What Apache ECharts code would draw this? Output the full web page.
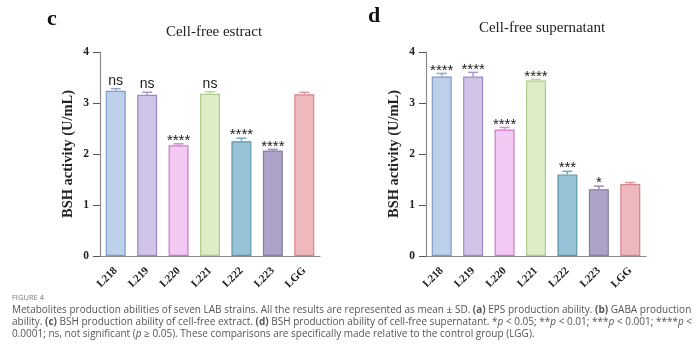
<!DOCTYPE html>
<html><head><meta charset="utf-8">
<script src="https://cdn.jsdelivr.net/npm/echarts@6/dist/echarts.min.js"></script>
<style>html,body{margin:0;padding:0;background:#fff}#c{width:700px;height:356px}</style>
</head><body><div id="c"></div>
<script>
const categories = ['L218','L219','L220','L221','L222','L223','LGG'];
const extractMean = [3.24, 3.16, 2.17, 3.18, 2.25, 2.07, 3.17];
const extractSD   = [0.04, 0.05, 0.03, 0.04, 0.06, 0.02, 0.04];
const extractSig  = ['ns','ns','****','ns','****','****',''];
const superMean = [3.52, 3.52, 2.48, 3.44, 1.60, 1.31, 1.41];
const superSD   = [0.06, 0.08, 0.04, 0.02, 0.06, 0.06, 0.03];
const superSig  = ['****','****','****','****','***','*',''];
const yTicks = [0, 1, 2, 3, 4];
const fills   = ['#bdd0ea','#d0c4e8','#f2c9f3','#deedc5','#96c3d6','#ada2c7','#eeb9bc'];
const borders = ['#7f9bcc','#9f88c9','#cf78c9','#afcb90','#5f97ab','#8a7ea8','#d8848a'];
const errCols = ['#8fa8d3','#ab97cf','#d58fd0','#bcd3a1','#78a8b9','#9a90b4','#dc969b'];

const serif = '"Liberation Serif", "Times New Roman", serif';
const sans = '"Liberation Sans", Arial, sans-serif';
const capFont = '"Open Sans", sans-serif';

function grid(left){ return {left:left, top:52, width:220, height:204}; }
function xAxis(i){
  return {gridIndex:i, type:'category', data:categories,
    axisLine:{lineStyle:{color:'#8c8c8c', width:1.2}},
    axisTick:{alignWithLabel:true, length:6, lineStyle:{color:'#555'}},
    axisLabel:{rotate:45, margin:13, fontFamily:serif, fontWeight:'bold', fontSize:11, color:'#222'}};
}
function yAxis(i){
  return {gridIndex:i, type:'value', min:yTicks[0], max:yTicks[yTicks.length-1], interval:1,
    name:'BSH activity (U/mL)', nameLocation:'middle', nameGap:24, nameRotate:90,
    nameTextStyle:{fontFamily:serif, fontWeight:'bold', fontSize:14.5, color:'#222'},
    axisLine:{show:true, lineStyle:{color:'#8c8c8c', width:1.2}},
    axisTick:{show:true, length:7, lineStyle:{color:'#555'}},
    axisLabel:{margin:11, fontFamily:serif, fontWeight:'bold', fontSize:11.5, color:'#222'},
    splitLine:{show:false}};
}
function bars(i, mean){
  return {type:'bar', xAxisIndex:i, yAxisIndex:i, barWidth:20, z:2,
    data: mean.map((v,k)=>({value:v, itemStyle:{color:fills[k], borderColor:borders[k], borderWidth:1.2}}))};
}
function errs(i, mean, sd, sig){
  return {type:'custom', xAxisIndex:i, yAxisIndex:i, z:3,
    data: mean.map((v,k)=>[k, v, sd[k]]),
    renderItem: function(params, api){
      const k = api.value(0);
      const base = api.coord([k, api.value(1)]);
      const top = api.coord([k, api.value(1) + api.value(2)]);
      const col = errCols[k];
      const s = sig[k];
      const children = [
        {type:'line', shape:{x1:base[0], y1:base[1], x2:top[0], y2:top[1]}, style:{stroke:col, lineWidth:1.5}},
        {type:'line', shape:{x1:top[0]-5, y1:top[1], x2:top[0]+5, y2:top[1]}, style:{stroke:col, lineWidth:1.5}}
      ];
      if (s) {
        const isNs = s === 'ns';
        children.push({type:'text', style:{text:s, x:top[0], y: isNs ? top[1]-1 : top[1]-3,
          align:'center', verticalAlign: isNs ? 'bottom' : 'middle',
          fontFamily:sans, fontSize: isNs ? 14 : 15, fill:'#1a1a1a'}});
      }
      return {type:'group', children:children};
    }};
}

const rich = {
  n:{fontFamily:capFont, fontSize:10, color:'#555'},
  b:{fontFamily:capFont, fontSize:10, color:'#333', fontWeight:'bold'},
  i:{fontFamily:capFont, fontSize:10, color:'#555', fontStyle:'italic'}
};
function capLine(y, txt){
  return {type:'text', left:12, top:y, style:{text:txt, rich:rich, fontFamily:capFont, fontSize:10, fill:'#555'}};
}

const chart = echarts.init(document.getElementById('c'), null, {renderer:'canvas'});
chart.setOption({
  animation:false,
  grid:[grid(100), grid(426)],
  xAxis:[xAxis(0), xAxis(1)],
  yAxis:[yAxis(0), yAxis(1)],
  series:[bars(0, extractMean), errs(0, extractMean, extractSD, extractSig),
          bars(1, superMean), errs(1, superMean, superSD, superSig)],
  graphic:[
    {type:'text', left:47, top:8, style:{text:'c', fontFamily:serif, fontWeight:'bold', fontSize:22, fill:'#111'}},
    {type:'text', left:368, top:5, style:{text:'d', fontFamily:serif, fontWeight:'bold', fontSize:22, fill:'#111'}},
    {type:'text', x:214, y:32, style:{text:'Cell-free estract', align:'center', verticalAlign:'middle', fontFamily:serif, fontSize:15, fill:'#222'}},
    {type:'text', x:542, y:28, style:{text:'Cell-free supernatant', align:'center', verticalAlign:'middle', fontFamily:serif, fontSize:15, fill:'#222'}},
    {type:'text', left:12, top:294, style:{text:'FIGURE 4', fontFamily:capFont, fontSize:7.5, fill:'#777'}},
    capLine(305, '{n|Metabolites production abilities of seven LAB strains. All the results are represented as mean ± SD. }{b|(a)}{n| EPS production ability. }{b|(b)}{n| GABA production}'),
    capLine(317.5, '{n|ability. }{b|(c)}{n| BSH production ability of cell-free extract. }{b|(d)}{n| BSH production ability of cell-free supernatant. *}{i|p}{n| < 0.05; **}{i|p}{n| < 0.01; ***}{i|p}{n| < 0.001; ****}{i|p}{n| <}'),
    capLine(329.5, '{n|0.0001; ns, not significant (}{i|p}{n| ≥ 0.05). These comparisons are specifically made relative to the control group (LGG).}')
  ]
});
</script></body></html>
